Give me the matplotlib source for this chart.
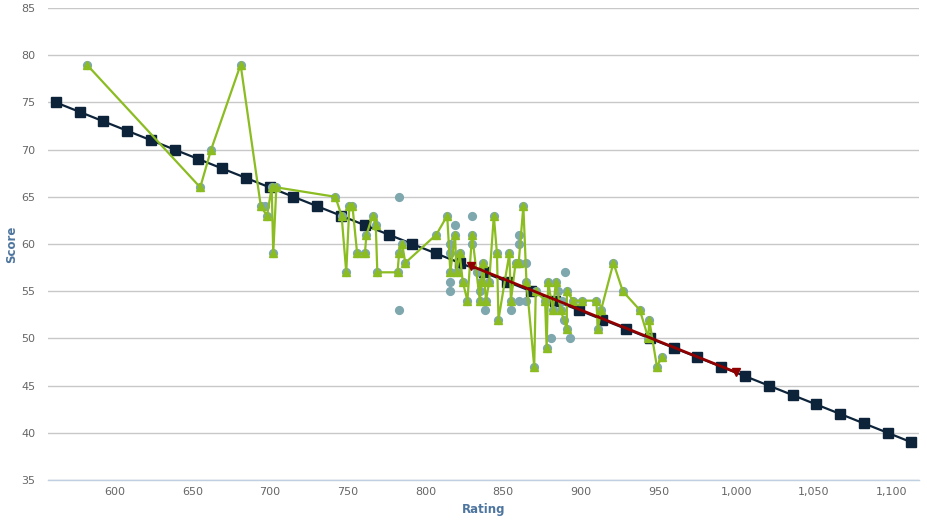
import matplotlib
matplotlib.use('Agg')
import matplotlib.pyplot as plt
from matplotlib.ticker import FuncFormatter, MultipleLocator

# regression line (navy squares)
fit_rating = [562.0, 577.3, 592.6, 607.9, 623.2, 638.5, 653.8, 669.1, 684.4, 699.7,
	715.0, 730.3, 745.6, 760.9, 776.2, 791.5, 806.8, 822.1, 837.4, 852.7,
	868.0, 883.3, 898.6, 913.9, 929.2, 944.5, 959.8, 975.1, 990.4, 1005.7,
	1021.0, 1036.3, 1051.6, 1066.9, 1082.2, 1097.5, 1112.8]
fit_score = [75, 74, 73, 72, 71, 70, 69, 68, 67, 66, 65, 64, 63, 62, 61, 60, 59, 58, 57,
	56, 55, 54, 53, 52, 51, 50, 49, 48, 47, 46, 45, 44, 43, 42, 41, 40, 39]

# green line
line_rating = [582, 655, 662, 681, 694, 698, 701, 702, 704, 742, 746, 749, 751, 753, 756,
	761, 762, 766, 768, 769, 782, 783, 785, 787, 807, 814, 816, 819, 820, 822, 824, 827,
	830, 835, 836, 837, 839, 841, 844, 846, 847, 854, 855, 858, 860, 863, 865, 870, 871,
	877, 878, 879, 882, 884, 887, 891, 891, 895, 901, 910, 911, 913, 921, 927, 938, 943.5,
	944, 949, 952]
line_score = [79, 66, 70, 79, 64, 63, 66, 59, 66, 65, 63, 57, 64, 64, 59,
	59, 61, 63, 62, 57, 57, 59, 60, 58, 61, 63, 57, 61, 57, 59, 56, 54,
	61, 54, 56, 58, 54, 56, 63, 59, 52, 59, 54, 58, 58, 64, 56, 47, 55,
	54, 49, 56, 53, 56, 53, 51, 55, 54, 54, 54, 51, 53, 58, 55, 53, 50,
	52, 47, 48]

# extra scatter points (teal circles only)
extra_rating = [697, 783, 783, 816, 816, 816, 816, 819, 830, 830, 835, 838, 855, 860, 860,
	860, 865, 865, 881, 888, 889, 890, 893, 885, 833]
extra_score = [64, 65, 53, 60, 59, 56, 55, 62, 63, 60, 55, 53, 53, 61, 60,
	54, 58, 54, 50, 54, 52, 57, 50, 55, 57]

# subset fit (dark red)
sub_rating = [829, 1000]
sub_score = [57.7, 46.4]

NAVY = '#0d233a'
GREEN = '#8bbc21'
TEAL = '#7fa7ae'
RED = '#910000'

fig = plt.figure(figsize=(9.28, 5.2), dpi=100)
ax = fig.add_axes([48 / 928, 40 / 520, 871 / 928, 472 / 520])

ax.plot(fit_rating, fit_score, color=NAVY, lw=1.6, marker='s', ms=6.5, zorder=2)
ax.scatter(line_rating + extra_rating, line_score + extra_score, s=44, color=TEAL, zorder=3,
	linewidths=0)
ax.plot(line_rating, line_score, color=GREEN, lw=1.6, marker='^', ms=6, zorder=4)
ax.plot(sub_rating, sub_score, color=RED, lw=2, marker='v', ms=5.5, zorder=5)

ax.set_xlim(557, 1117.7)
ax.set_ylim(35, 85)
ax.yaxis.set_major_locator(MultipleLocator(5))
ax.xaxis.set_major_locator(MultipleLocator(50))
ax.xaxis.set_major_formatter(FuncFormatter(lambda v, p: '{:,.0f}'.format(v)))
ax.grid(axis='y', color='#c8c8c8', lw=1)
ax.set_axisbelow(True)
for side in ['top', 'right', 'left']:
	ax.spines[side].set_visible(False)
ax.spines['bottom'].set_color('#c0d0e0')
ax.spines['bottom'].set_linewidth(1)
ax.tick_params(axis='both', length=0, labelsize=8, labelcolor='#666666')
ax.tick_params(axis='y', pad=9)
ax.tick_params(axis='x', pad=5)

ax.set_xlabel('Rating', fontsize=8.5, fontweight='bold', color='#4d759e', labelpad=4)
fig.text(12 / 928, 1 - 244 / 520, 'Score', rotation=90, ha='center', va='center',
	fontsize=8.5, fontweight='bold', color='#4d759e')

fig.savefig('out.png', dpi=100)
